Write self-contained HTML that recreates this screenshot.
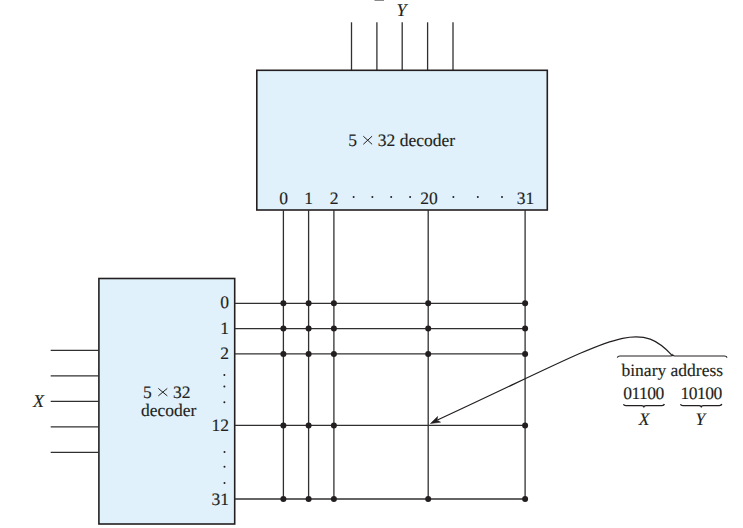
<!DOCTYPE html>
<html><head><meta charset="utf-8">
<style>
html,body{margin:0;padding:0;background:#fff;}
body{width:743px;height:528px;overflow:hidden;}
svg{display:block;}
text{font-family:"Liberation Serif",serif;fill:#231f20;stroke:#231f20;stroke-width:0.15px;text-rendering:geometricPrecision;}
</style></head>
<body>
<svg width="743" height="528" viewBox="0 0 743 528">
<!-- top fragment -->
<rect x="374.5" y="0" width="9.5" height="1" fill="#8a8a8a"/>
<!-- Y label -->
<text x="401.6" y="16.1" font-size="18" font-style="italic" text-anchor="middle">Y</text>
<!-- Y inputs -->
<g stroke="#303030" stroke-width="1.3" fill="none">
<line x1="351.5" y1="22.3" x2="351.5" y2="70"/>
<line x1="376.9" y1="22.3" x2="376.9" y2="70"/>
<line x1="402.2" y1="22.3" x2="402.2" y2="70"/>
<line x1="427.6" y1="22.3" x2="427.6" y2="70"/>
<line x1="453" y1="22.3" x2="453" y2="70"/>
</g>
<!-- top box -->
<rect x="256.8" y="70.3" width="290.5" height="139.7" fill="#e0f1fb" stroke="#231f20" stroke-width="1.6"/>
<text x="348.3" y="145.7" font-size="17.5">5</text><path d="M363.3,136.2 L372.1,144.3 M372.1,136.2 L363.3,144.3" stroke="#231f20" stroke-width="1"/><text x="377.8" y="145.7" font-size="17.5">32 decoder</text>
<g font-size="17.5" text-anchor="middle">
<text x="283.6" y="204">0</text>
<text x="308.6" y="204">1</text>
<text x="334" y="204">2</text>
<text x="428.9" y="204">20</text>
<text x="525.6" y="204">31</text>
</g>
<g fill="#231f20">
<circle cx="353.6" cy="197.1" r="1"/>
<circle cx="372.4" cy="197.1" r="1"/>
<circle cx="391.2" cy="197.1" r="1"/>
<circle cx="410.1" cy="197.1" r="1"/>
<circle cx="453.4" cy="197.1" r="1"/>
<circle cx="477.8" cy="197.1" r="1"/>
<circle cx="502" cy="197.1" r="1"/>
</g>
<!-- vertical output lines -->
<g stroke="#303030" stroke-width="1.3" fill="none">
<line x1="283.4" y1="210" x2="283.4" y2="499"/>
<line x1="308.6" y1="210" x2="308.6" y2="499"/>
<line x1="333.9" y1="210" x2="333.9" y2="499"/>
<line x1="428.2" y1="210" x2="428.2" y2="499"/>
<line x1="525.1" y1="210" x2="525.1" y2="499"/>
</g>
<!-- left box -->
<rect x="98.9" y="278.5" width="135.8" height="245.5" fill="#e0f1fb" stroke="#231f20" stroke-width="1.6"/>
<g font-size="17.5" text-anchor="end">
<text x="229" y="308.4">0</text>
<text x="229" y="333.8">1</text>
<text x="229" y="359.1">2</text>
<text x="229" y="430.8">12</text>
<text x="229" y="504.9">31</text>
</g>
<g fill="#231f20">
<circle cx="224.4" cy="375.1" r="1"/>
<circle cx="224.4" cy="386.6" r="1"/>
<circle cx="224.4" cy="402.2" r="1"/>
<circle cx="224.5" cy="452" r="1"/>
<circle cx="224.5" cy="466.8" r="1"/>
<circle cx="224.5" cy="483" r="1"/>
</g>
<text x="143.1" y="397.8" font-size="17.5">5</text><path d="M158.3,388.4 L167.3,395.9 M167.3,388.4 L158.3,395.9" stroke="#231f20" stroke-width="1"/><text x="172.9" y="397.8" font-size="17.5">32</text>
<text x="168.6" y="415.9" font-size="17.5" text-anchor="middle">decoder</text>
<!-- X inputs -->
<g stroke="#303030" stroke-width="1.3" fill="none">
<line x1="50.7" y1="350.3" x2="98.9" y2="350.3"/>
<line x1="50.7" y1="375.9" x2="98.9" y2="375.9"/>
<line x1="50.7" y1="401.4" x2="98.9" y2="401.4"/>
<line x1="50.7" y1="426.9" x2="98.9" y2="426.9"/>
<line x1="50.7" y1="452.3" x2="98.9" y2="452.3"/>
</g>
<text x="38.4" y="407.4" font-size="18" font-style="italic" text-anchor="middle">X</text>
<!-- horizontal grid lines -->
<g stroke="#303030" stroke-width="1.3" fill="none">
<line x1="234.7" y1="303.3" x2="525.1" y2="303.3"/>
<line x1="234.7" y1="328.6" x2="525.1" y2="328.6"/>
<line x1="234.7" y1="353.9" x2="525.1" y2="353.9"/>
<line x1="234.7" y1="425.4" x2="525.1" y2="425.4"/>
<line x1="234.7" y1="499" x2="525.1" y2="499"/>
</g>
<!-- dots -->
<g fill="#231f20">
<circle cx="283.4" cy="303.3" r="3"/><circle cx="308.6" cy="303.3" r="3"/><circle cx="333.9" cy="303.3" r="3"/><circle cx="428.2" cy="303.3" r="3"/><circle cx="525.1" cy="303.3" r="3"/>
<circle cx="283.4" cy="328.6" r="3"/><circle cx="308.6" cy="328.6" r="3"/><circle cx="333.9" cy="328.6" r="3"/><circle cx="428.2" cy="328.6" r="3"/><circle cx="525.1" cy="328.6" r="3"/>
<circle cx="283.4" cy="353.9" r="3"/><circle cx="308.6" cy="353.9" r="3"/><circle cx="333.9" cy="353.9" r="3"/><circle cx="428.2" cy="353.9" r="3"/><circle cx="525.1" cy="353.9" r="3"/>
<circle cx="283.4" cy="425.4" r="3"/><circle cx="308.6" cy="425.4" r="3"/><circle cx="333.9" cy="425.4" r="3"/><circle cx="525.1" cy="425.4" r="3"/>
<circle cx="283.4" cy="499" r="3"/><circle cx="308.6" cy="499" r="3"/><circle cx="333.9" cy="499" r="3"/><circle cx="428.2" cy="499" r="3"/><circle cx="525.1" cy="499" r="3"/>
</g>
<!-- arrow curve -->
<path d="M672.6,355.8 C636,316.7 615.6,337.6 437.5,420" stroke="#231f20" stroke-width="1.2" fill="none"/>
<path d="M430.4,423.6 L437.6,416.4 L437.2,420.2 L440.6,422.2 Z" fill="#231f20" stroke="#231f20" stroke-width="0.5" stroke-linejoin="round"/>
<!-- overbrace -->
<path d="M617.3,357.6 Q617.8,356 620,356 L670.5,356 Q672.3,356 672.8,354.9 Q673.3,356 675,356 L724.5,356 Q726.6,356 727,357.6" stroke="#231f20" stroke-width="1.2" fill="none"/>
<text x="672.3" y="376" font-size="17.5" text-anchor="middle">binary address</text>
<text x="643.5" y="398.8" font-size="17.5" text-anchor="middle" letter-spacing="-0.5">01100</text>
<text x="701.2" y="398.8" font-size="17.5" text-anchor="middle" letter-spacing="-0.5">10100</text>
<!-- underbraces -->
<path d="M623.4,404.2 Q624,405.6 626,405.6 L641.5,405.6 Q643.4,405.6 643.9,406.7 Q644.4,405.6 646.3,405.6 L662,405.6 Q664,405.6 664.4,404" stroke="#231f20" stroke-width="1.3" fill="none"/>
<path d="M680.4,404.2 Q681,405.6 683,405.6 L698.8,405.6 Q700.7,405.6 701.2,406.7 Q701.7,405.6 703.6,405.6 L719.4,405.6 Q721.4,405.6 721.8,404" stroke="#231f20" stroke-width="1.3" fill="none"/>
<text x="644" y="425.2" font-size="17.5" font-style="italic" text-anchor="middle">X</text>
<text x="700.3" y="425.2" font-size="17.5" font-style="italic" text-anchor="middle">Y</text>
</svg>
</body></html>
